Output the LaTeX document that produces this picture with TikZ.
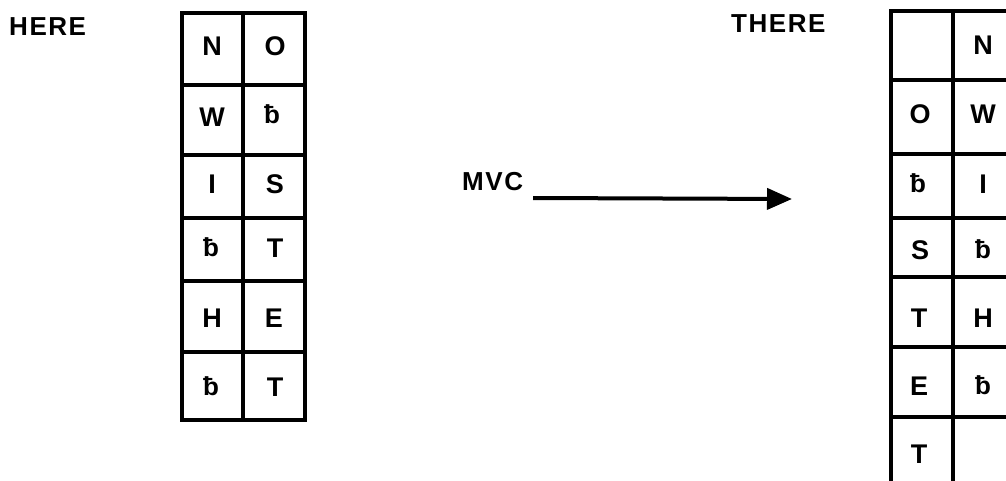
\documentclass[tikz,border=0pt]{standalone}
\usepackage{fontspec}
\setmainfont{Liberation Sans}
\newfontfamily\labfont{Liberation Sans}[LetterSpace=6]
\usetikzlibrary{arrows.meta}
\tikzset{
  gridline/.style={line width=3.6pt, line join=miter, line cap=rect},
  cell/.style={font=\bfseries\fontsize{27}{27}\selectfont, inner sep=0pt, anchor=center},
  lab/.style={font=\labfont\bfseries\fontsize{26}{26}\selectfont, inner sep=0pt, anchor=base west},
  mvarrow/.style={line width=4pt, -{Triangle[length=25pt,width=21pt]}}
}
\newcommand{\bsym}{{\fontsize{26}{26}\selectfont ƀ}}
\begin{document}
\begin{tikzpicture}[x=1pt,y=-1pt]
\useasboundingbox (0,0) rectangle (1006,481);
% left grid
\draw[gridline] (182,13) rectangle (305,420);
\draw[gridline] (243,13) -- (243,420);
\foreach \yy in {85,155,218,281,352} \draw[gridline] (182,\yy) -- (305,\yy);
% right grid (cut at right edge)
\begin{scope}
\clip (0,0) rectangle (1006,481);
\draw[gridline] (891,11) rectangle (1015,487);
\draw[gridline] (953,11) -- (953,487);
\foreach \yy in {80,154,218,277,347,417} \draw[gridline] (891,\yy) -- (1015,\yy);
\end{scope}
% left cells
\node[cell] (lN) at (212,46) {N};
\node[cell] (lO) at (275,46) {O};
\node[cell] (lW) at (212,117) {W};
\node[cell] (lb1) at (272,114) {\bsym};
\node[cell] (lI) at (212,184) {I};
\node[cell] (lS) at (275,184) {S};
\node[cell] (lb2) at (211,247) {\bsym};
\node[cell] (lT1) at (275,248) {T};
\node[cell] (lH) at (212,318) {H};
\node[cell] (lE) at (274,318) {E};
\node[cell] (lb3) at (211,386) {\bsym};
\node[cell] (lT2) at (275,387) {T};
% right cells
\node[cell] (rN) at (983,45) {N};
\node[cell] (rO) at (920,114) {O};
\node[cell] (rW) at (983,114) {W};
\node[cell] (rb1) at (918,183) {\bsym};
\node[cell] (rI) at (983,184) {I};
\node[cell] (rS) at (920,250) {S};
\node[cell] (rb2) at (983,249) {\bsym};
\node[cell] (rT1) at (919,318) {T};
\node[cell] (rH) at (983,318) {H};
\node[cell] (rE) at (919,386) {E};
\node[cell] (rb3) at (983,385) {\bsym};
\node[cell] (rT2) at (919,454) {T};
% labels
\node[lab] (here) at (9,36) {HERE};
\node[lab] (there) at (731,33) {THERE};
\node[lab] (mvc) at (462,191) {MVC};
\coordinate (as) at (533,198);
\coordinate (ae) at (792,199);
\draw[mvarrow] (as) -- (ae);
\end{tikzpicture}
\end{document}
